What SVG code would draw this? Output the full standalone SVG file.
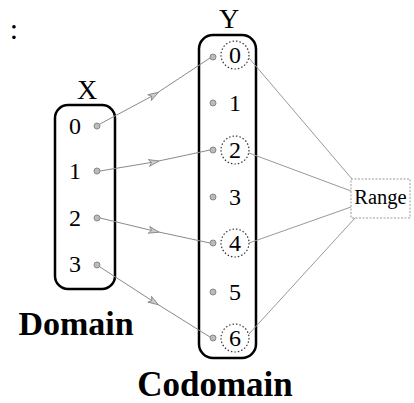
<svg xmlns="http://www.w3.org/2000/svg" width="414" height="403" viewBox="0 0 414 403">
<style>
.t{font-family:"Liberation Serif","Times New Roman",serif;fill:#000;text-anchor:middle}
.d{font-size:24px}
.lbl{font-size:28px}
.b{font-size:34px;font-weight:bold}
.box{fill:none;stroke:#000;stroke-width:2.5}
.dot{fill:#bbb;stroke:#888;stroke-width:1}
.ring{fill:none;stroke:#333;stroke-width:1.2;stroke-dasharray:1.5 2}
.arr{fill:none;stroke:#8a8a8a;stroke-width:1;marker-mid:url(#ah)}
.rl{fill:none;stroke:#999;stroke-width:1}
</style>
<defs>
<marker id="ah" viewBox="0 0 14 10" refX="7" refY="5" markerWidth="12" markerHeight="9" markerUnits="userSpaceOnUse" orient="auto">
<path d="M1,1 L13,5 L1,9 L4,5 Z" fill="#ccc" stroke="#888" stroke-width="1"/>
</marker>
</defs>
<text class="t" x="14" y="39" style="font-size:30px">:</text>
<g id="domain">
<text class="t lbl" x="87" y="99">X</text>
<rect class="box" x="55" y="105" width="60" height="184" rx="13"/>
<text class="t d" x="75" y="134">0</text>
<text class="t d" x="75" y="179">1</text>
<text class="t d" x="75" y="226">2</text>
<text class="t d" x="75" y="272">3</text>
<circle class="dot" cx="97" cy="126" r="3"/>
<circle class="dot" cx="97" cy="171" r="3"/>
<circle class="dot" cx="97" cy="218" r="3"/>
<circle class="dot" cx="97" cy="265" r="3"/>
<text class="t b" x="76" y="335">Domain</text>
</g>
<g id="codomain">
<text class="t lbl" x="229" y="28">Y</text>
<rect class="box" x="199" y="35" width="57" height="323" rx="14"/>
<text class="t d" x="235" y="63">0</text>
<text class="t d" x="235" y="111">1</text>
<text class="t d" x="235" y="158">2</text>
<text class="t d" x="235" y="205">3</text>
<text class="t d" x="235" y="251">4</text>
<text class="t d" x="235" y="300">5</text>
<text class="t d" x="235" y="346">6</text>
<circle class="ring" cx="235" cy="55" r="14"/>
<circle class="ring" cx="235" cy="150" r="14"/>
<circle class="ring" cx="235" cy="243" r="14"/>
<circle class="ring" cx="235" cy="338" r="14"/>
<circle class="dot" cx="213" cy="57" r="3"/>
<circle class="dot" cx="213" cy="103" r="3"/>
<circle class="dot" cx="213" cy="150" r="3"/>
<circle class="dot" cx="213" cy="197" r="3"/>
<circle class="dot" cx="213" cy="243" r="3"/>
<circle class="dot" cx="213" cy="292" r="3"/>
<circle class="dot" cx="213" cy="338" r="3"/>
<text class="t b" x="215" y="396" style="font-size:35px">Codomain</text>
</g>
<g id="range">
<rect x="351" y="179" width="59" height="39" fill="#fff" stroke="#999" stroke-width="1" stroke-dasharray="2 1.5"/>
<text class="t" x="380.5" y="204" style="font-size:20.5px">Range</text>
</g>
<g id="connectors">
<polyline class="arr" points="100,124 154,95 210,58"/>
<polyline class="arr" points="100,171 154,162 210,150"/>
<polyline class="arr" points="100,218 154,231 210,243"/>
<polyline class="arr" points="100,267 154,302 210,337"/>
<line class="rl" x1="249" y1="58" x2="352" y2="179"/>
<line class="rl" x1="249" y1="153" x2="351" y2="191"/>
<line class="rl" x1="249" y1="243" x2="351" y2="207"/>
<line class="rl" x1="249" y1="334" x2="355" y2="218"/>
</g>
</svg>
